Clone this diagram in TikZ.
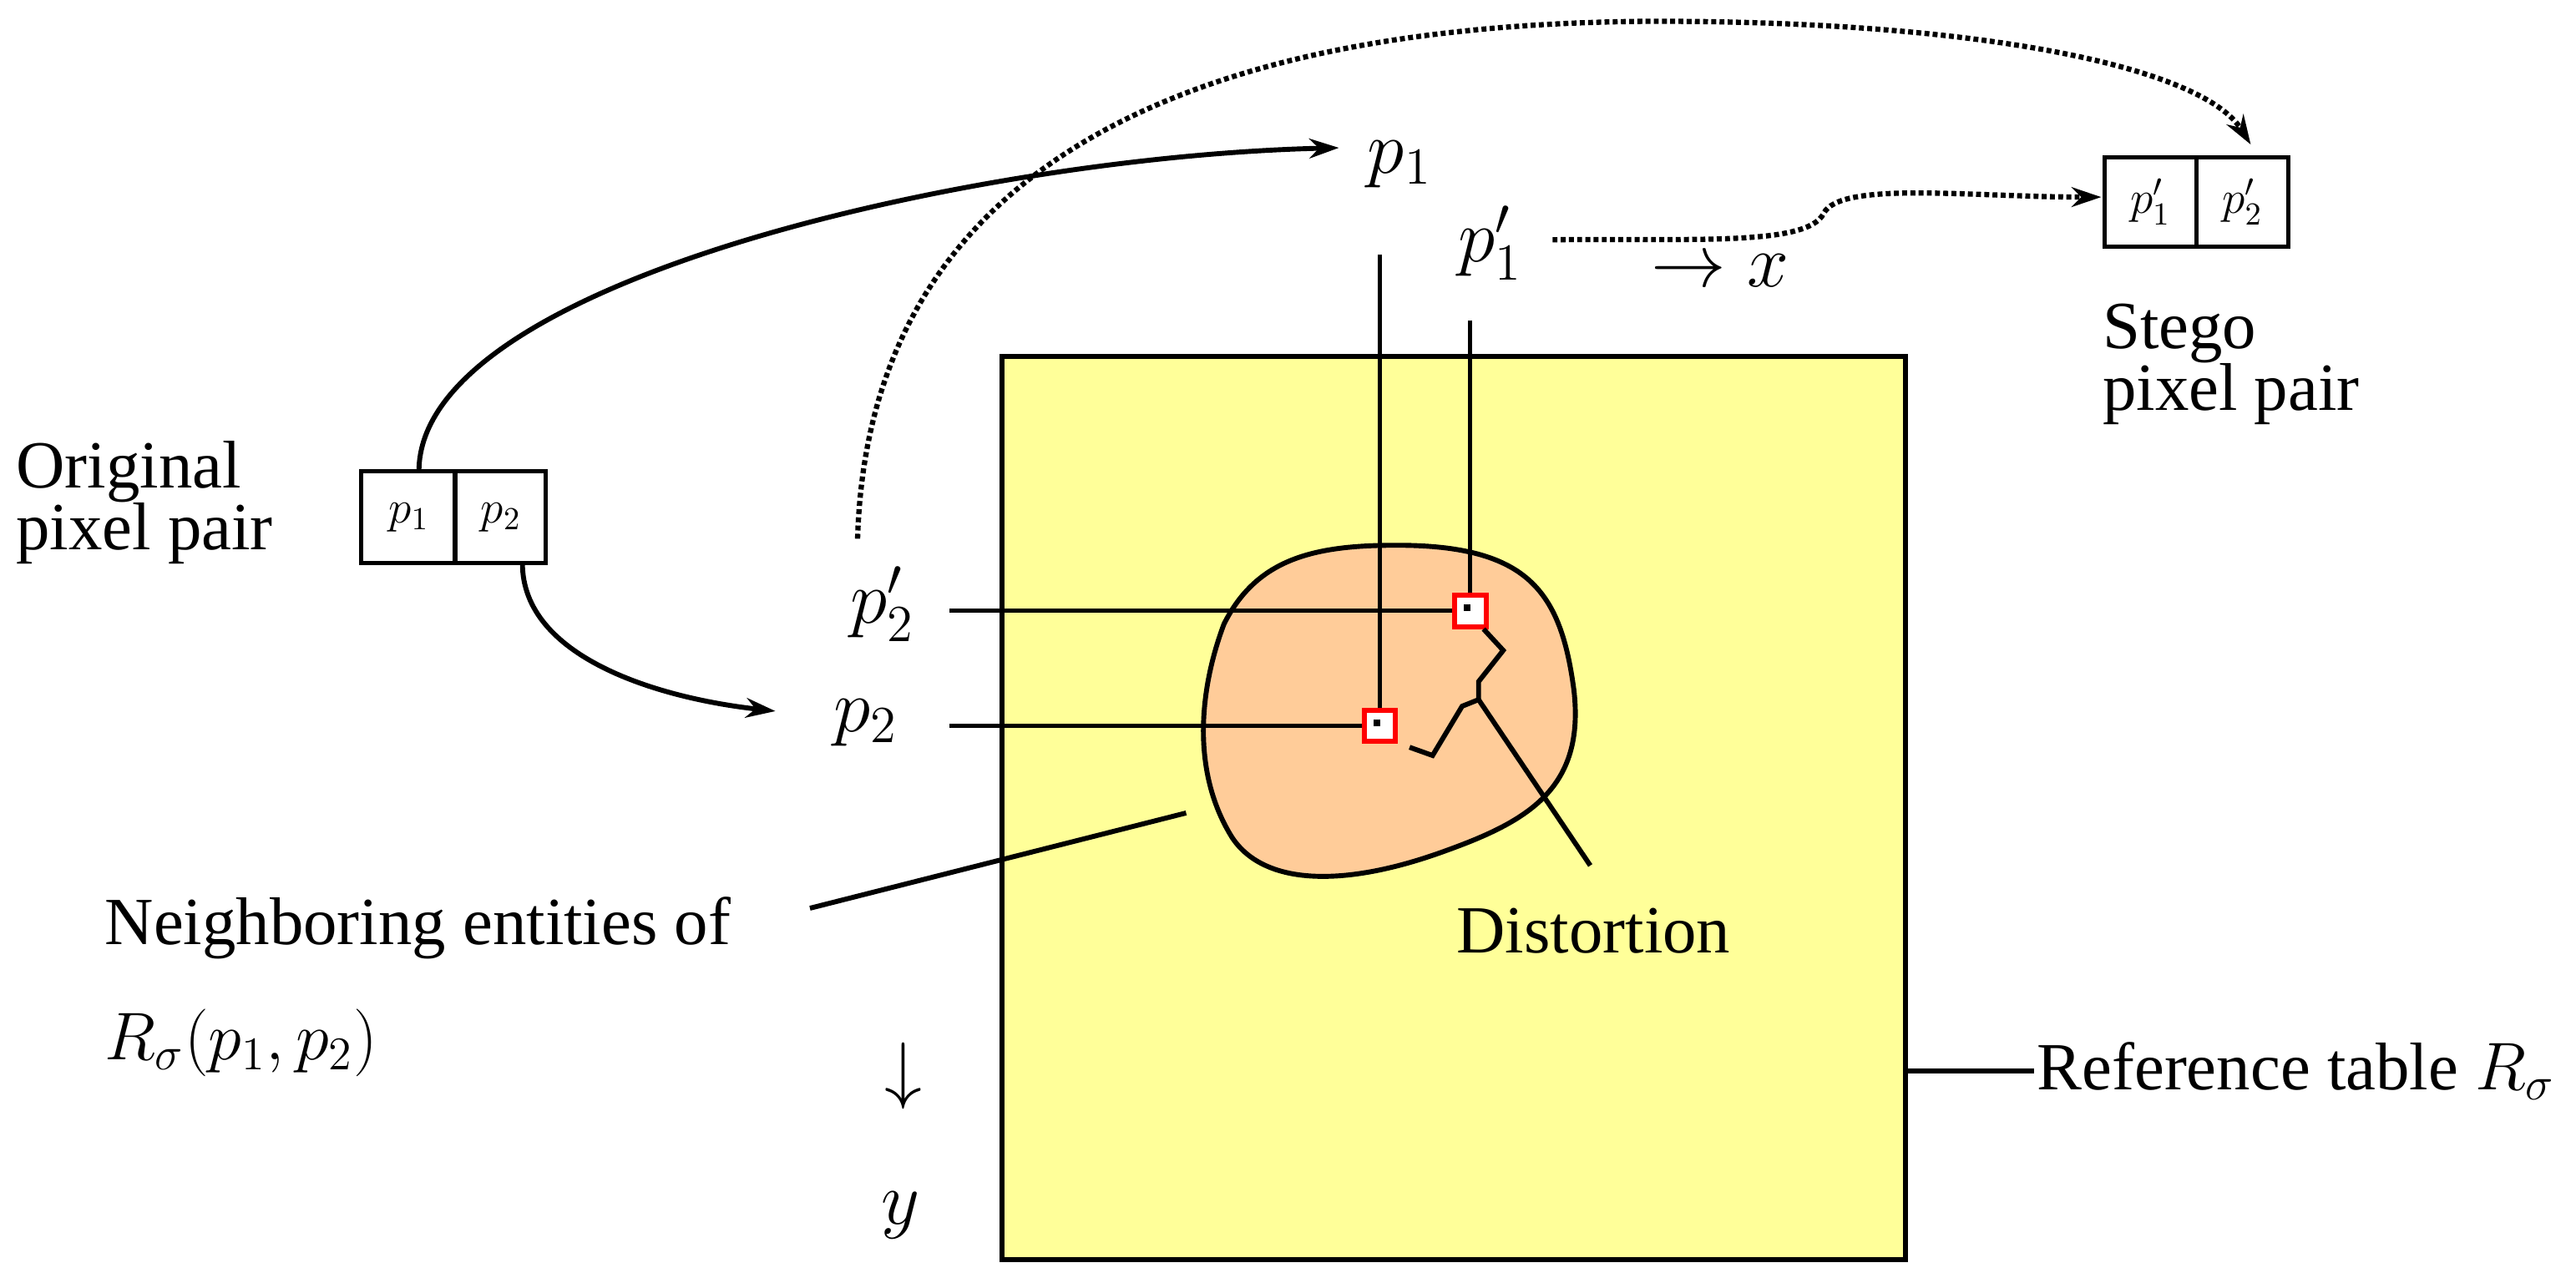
\documentclass[tikz,border=0pt]{standalone}
\usepackage{fontspec}
\setmainfont{Liberation Serif}
\usetikzlibrary{arrows.meta}
\begin{document}
\begin{tikzpicture}[x=1pt,y=1pt,yscale=-1,xscale=1,
  txt/.style={inner sep=0.75pt,font=\fontsize{20.74}{19}\selectfont,scale=1.98},
  big/.style={inner sep=0.75pt,font=\fontsize{20.74}{24}\selectfont,scale=2.2},
  sml/.style={inner sep=0.75pt,font=\fontsize{14.4}{16}\selectfont,scale=1.95},
  lnk/.style={line width=3pt,-{Stealth[length=18pt,width=12pt]}},
  dlnk/.style={lnk,dotted,line width=3.2pt},
  pix/.style={draw=red,line width=3pt,fill=white,minimum size=19pt,inner sep=0pt}]
\useasboundingbox (0,0) rectangle (1568,781);

%Shape: Rectangle
\draw [line width=3pt,fill={rgb,255:red,255;green,255;blue,153}] (610,217) rectangle (1160,767);
%Shape: Blob
\draw [line width=3pt,fill={rgb,255:red,255;green,204;blue,153}] (850,332) .. controls (930,332) and (950,360) .. (958,420) .. controls (965,480) and (930,500) .. (880,518) .. controls (820,540) and (770,540) .. (750,510) .. controls (725,470) and (730,420) .. (745,380) .. controls (765,340) and (800,332) .. (850,332) -- cycle;

% Grid lines
\coordinate (v1) at (840,155); \coordinate (v2) at (895,195);
\coordinate (h1) at (578,442); \coordinate (h2) at (578,372);
\coordinate (c2) at (840,442); \coordinate (c1) at (895,372);
\draw [line width=2.6pt] (v1) -- (c2) -- (h1);
\draw [line width=2.6pt] (v2) -- (c1) -- (h2);
\node [pix] (s2) at (c2) {};
\node [pix] (s1) at (c1) {};
\fill (c2) rectangle +(-4,-4); \fill (c1) rectangle +(-4,-4);

% Text Node
\node [big] (p1) at (852,100) {$p_1$};
\node [big] (p1s) at (907,148) {$p_1'$};
\node [big] (p2s) at (537,368) {$p_2'$};
\node [big] (p2) at (527,440) {$p_2$};
\node [big,anchor=west] (xa) at (1003,165) {$\rightarrow x$};
\node [big] (ya) at (550,655) {$\downarrow$};
\node [big] (yy) at (548,740) {$y$};

%Original pair
\draw [line width=2.6pt] (220,287) rectangle (332,343) (277,287) -- (277,343);
\node [sml] (o1) at (249,315) {$p_1$};
\node [sml] (o2) at (305,315) {$p_2$};
\node [txt,align=left] (ot) at (88,306) {Original\\pixel pair};
%Stego pair
\draw [line width=2.6pt] (1281,96) rectangle (1393,150) (1337,96) -- (1337,150);
\node [sml] (g1) at (1309,123) {$p_1'$};
\node [sml] (g2) at (1365,123) {$p_2'$};
\node [txt,align=left,anchor=west] (gt) at (1278,222) {Stego\\pixel pair};

% Arrows
\coordinate (a1) at (255,287); \coordinate (a2) at (318,343);
\coordinate (a3) at (522,328); \coordinate (a4) at (945,146);
\draw [lnk] (a1) .. controls (255,170) and (600,95) .. (815,90);
\draw [lnk] (a2) .. controls (318,400) and (400,425) .. (472,433);
\draw [dlnk] (a3) .. controls (530,60) and (800,15) .. (1000,13) .. controls (1200,12) and (1340,40) .. (1370,88);
\draw [dlnk] (a4) .. controls (1030,145) and (1100,150) .. (1110,130) .. controls (1120,110) and (1200,120) .. (1279,120);

% Distortion
\draw [line width=3pt] (858,455) -- (872,460) -- (890,430) -- (900,426) -- (900,415) -- (915,396) -- (903,383);
\coordinate (dd) at (968,527);
\draw [line width=3pt] (900,426) -- (dd);
\node [txt] (dt) at (970,567) {Distortion};

% Neighboring
\coordinate (nb) at (722,495);
\node [txt,anchor=west] (nt) at (62,565) {Neighboring entities of};
\draw [line width=3pt] (493,553) -- (nb);
\node [txt,anchor=west] (nr) at (62,635) {$R_\sigma(p_1,p_2)$};

% Reference
\node [txt,anchor=west] (rt) at (1238,652) {Reference table $R_\sigma$};
\draw [line width=3pt] (1160,652) -- (rt);
\end{tikzpicture}
\end{document}
